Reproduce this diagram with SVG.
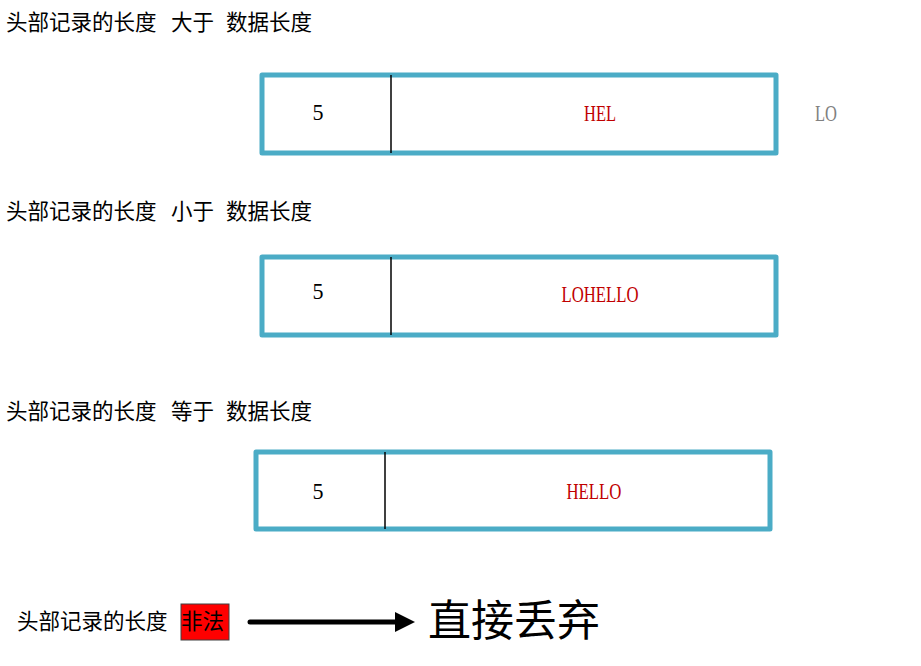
<svg xmlns="http://www.w3.org/2000/svg" width="921" height="666" viewBox="0 0 921 666">
<defs>
<style>
.lbl{font-family:"Noto Sans CJK SC","Liberation Serif",serif;font-size:21.5px;fill:#000}
.box{fill:#fff;stroke:#4BACC6;stroke-width:5;stroke-linejoin:round}
.div{stroke:#000;stroke-width:1.5}
.num{font-family:"Liberation Serif",serif;font-size:24px;fill:#000;text-anchor:middle}
.data{font-family:"Liberation Serif",serif;font-size:24px;fill:#C00000;text-anchor:middle}
.rest{font-family:"Liberation Serif",serif;font-size:24px;fill:#808080}
</style>
<marker id="ah" markerWidth="4" markerHeight="4" refX="0" refY="2" orient="auto" markerUnits="strokeWidth">
<path d="M0,0 L4,2 L0,4 z" fill="#000"/>
</marker>
</defs>
<rect width="921" height="666" fill="#fff"/>
<g id="title1">
<text class="lbl" x="6" y="30">头部记录的长度</text>
<text class="lbl" x="171" y="30">大于</text>
<text class="lbl" x="226" y="30">数据长度</text>
</g>
<g id="packet1">
<rect class="box" x="262" y="75" width="514" height="78"/>
<line class="div" x1="391" y1="75" x2="391" y2="153"/>
<text class="num" x="318" y="120" textLength="11" lengthAdjust="spacingAndGlyphs">5</text>
<text class="data" x="600" y="121" textLength="32" lengthAdjust="spacingAndGlyphs">HEL</text>
<text class="rest" x="815" y="121" textLength="22" lengthAdjust="spacingAndGlyphs">LO</text>
</g>
<g id="title2">
<text class="lbl" x="6" y="219">头部记录的长度</text>
<text class="lbl" x="171" y="219">小于</text>
<text class="lbl" x="226" y="219">数据长度</text>
</g>
<g id="packet2">
<rect class="box" x="262" y="257" width="514" height="78"/>
<line class="div" x1="391" y1="257" x2="391" y2="335"/>
<text class="num" x="318" y="299" textLength="11" lengthAdjust="spacingAndGlyphs">5</text>
<text class="data" x="600" y="302" textLength="77" lengthAdjust="spacingAndGlyphs">LOHELLO</text>
</g>
<g id="title3">
<text class="lbl" x="6" y="419">头部记录的长度</text>
<text class="lbl" x="171" y="419">等于</text>
<text class="lbl" x="226" y="419">数据长度</text>
</g>
<g id="packet3">
<rect class="box" x="256" y="452" width="514" height="77"/>
<line class="div" x1="385" y1="452" x2="385" y2="529"/>
<text class="num" x="318" y="499" textLength="11" lengthAdjust="spacingAndGlyphs">5</text>
<text class="data" x="594" y="499" textLength="55" lengthAdjust="spacingAndGlyphs">HELLO</text>
</g>
<g id="illegal">
<text class="lbl" x="17" y="629">头部记录的长度</text>
<rect x="181" y="604" width="48" height="36" fill="#FF0000" stroke="#404040" stroke-width="1"/>
<text class="lbl" x="181" y="629">非法</text>
</g>
<g id="connectors">
<line x1="250" y1="622" x2="395" y2="622" stroke="#000" stroke-width="5" stroke-linecap="round" marker-end="url(#ah)"/>
</g>
<g id="discard">
<text x="428" y="636" style="font-family:'Noto Sans CJK SC','Liberation Serif',serif;font-size:43px;fill:#000">直接丢弃</text>
</g>
</svg>
